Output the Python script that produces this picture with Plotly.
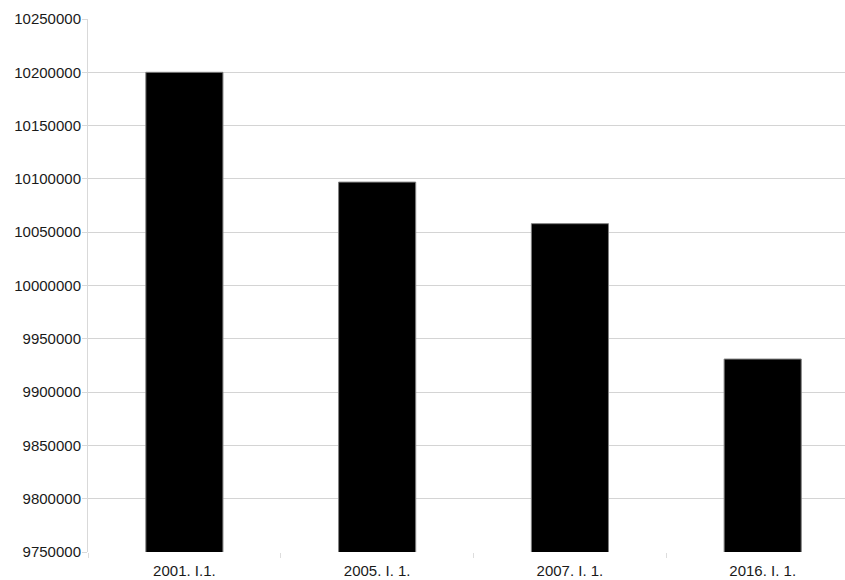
import plotly.graph_objects as go

categories = ["2001. I.1.", "2005. I. 1.", "2007. I. 1.", "2016. I. 1."]
population = [10200000, 10097000, 10058000, 9931000]
y_ticks = list(range(9750000, 10250001, 50000))

fig = go.Figure(go.Bar(
    x=categories,
    y=population,
    width=0.4,
    marker=dict(color="#000000", line=dict(color="#808080", width=1)),
))

fig.update_layout(
    width=845, height=580,
    autosize=False,
    margin=dict(l=88, r=0, t=19, b=28, autoexpand=False),
    paper_bgcolor="white", plot_bgcolor="white",
    font=dict(family="Liberation Sans, Arial, sans-serif", size=15, color="#1a1a1a"),
    showlegend=False,
)
fig.update_xaxes(
    type="category",
    range=[-0.5, 3.427],
    showgrid=False, showline=False, zeroline=False,
    ticks="outside", tickson="boundaries", ticklen=5, tickcolor="#dddddd",
    ticklabelstandoff=8,
)
fig.update_yaxes(
    range=[9750000, 10250000],
    tickvals=y_ticks,
    ticktext=[str(v) for v in y_ticks],
    showgrid=True, gridcolor="#d4d4d4", gridwidth=1,
    showline=True, linecolor="#d9d9d9", linewidth=1,
    ticks="outside", ticklen=5, tickcolor="#d9d9d9",
    ticklabelstandoff=-2,
    zeroline=False,
)

fig.write_html(
    "out.html",
    config={"responsive": False, "displayModeBar": False},
    post_script="document.body.style.margin='0';document.body.style.overflow='hidden';",
)
